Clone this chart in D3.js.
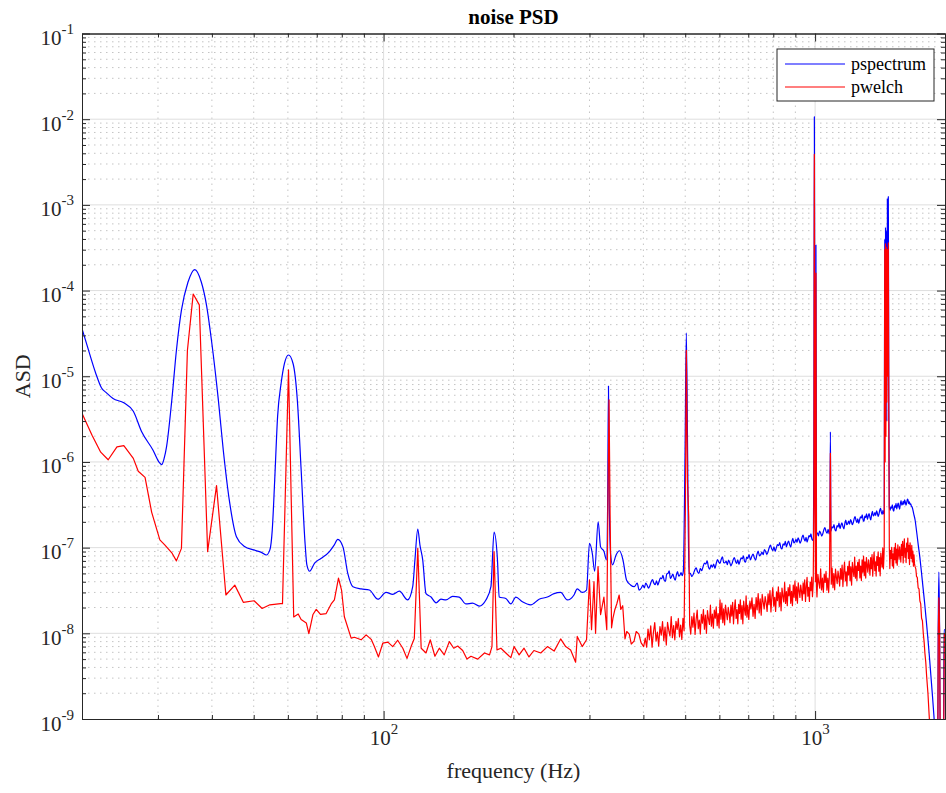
<!DOCTYPE html>
<html><head><meta charset="utf-8">
<script src="https://cdn.jsdelivr.net/npm/d3@7"></script>
<style>body{margin:0;background:#fff}svg{display:block}</style>
</head><body><svg id="chart" width="946" height="793"></svg>
<script>
// ---------------- data ----------------
const titleText = "noise PSD";
const xLabelText = "frequency (Hz)";
const yLabelText = "ASD";
const seriesNames = ["pspectrum", "pwelch"];
const seriesColors = ["#0000ff", "#ff0000"];
const xDomain = [20, 2000];
const yDomain = [1e-9, 1e-1];
const xMajorTicks = [100, 1000];
const xTickExponents = ["2", "3"];
const yMajorTicks = [1e-9,1e-8,1e-7,1e-6,1e-5,1e-4,1e-3,1e-2,1e-1];
const yTickExponents = ["-9","-8","-7","-6","-5","-4","-3","-2","-1"];
const minorMultipliers = [2,3,4,5,6,7,8,9];

// pspectrum: [frequency Hz, ASD]
const pspectrum = [
[20,3.6e-5],[20.6,2.2e-5],[21.5,1.1e-5],[22.2,7.3e-6],[22.8,6.4e-6],[23.6,5.5e-6],[25.0,4.9e-6],[26.3,3.9e-6],[27.5,2.25e-6],[29.2,1.38e-6],
[30.2,9.9e-7],[30.6,9.3e-7],[31.0,1.1e-6],[31.4,1.5e-6],[32.3,5.3e-6],[33.1,2.0e-5],[34.0,5.9e-5],[35.2,1.25e-4],[36.5,1.76e-4],[37.8,1.26e-4],
[38.9,6.6e-5],[39.9,2.65e-5],[41.4,5.3e-6],[42.5,1.38e-6],[44.0,3.3e-7],[45.6,1.34e-7],[47.6,1.03e-7],[50.0,9.4e-8],[52.1,8.8e-8],[53.5,8.2e-8],
[54.5,9.4e-8],[55.2,1.6e-7],[55.9,5.8e-7],[56.8,3.4e-6],[57.9,8.4e-6],[58.9,1.4e-5],[60.2,1.77e-5],[61.7,1.4e-5],[63.1,5.3e-6],[64.4,8.1e-7],
[65.8,1.08e-7],[66.4,6.3e-8],[67.4,5.3e-8],[69.2,6.6e-8],[71.7,7.5e-8],[74.9,9.0e-8],[76.8,1.07e-7],[78.3,1.25e-7],[80.5,1.02e-7],[82.6,5.0e-8],
[84.9,3.5e-8],[88.7,3.3e-8],[92.7,3.2e-8],[97.0,2.5e-8],[101.3,3.0e-8],[105,2.85e-8],[108.8,3.1e-8],[113.7,2.45e-8],[116.8,3.5e-8],[118.2,7.2e-8],
[120.0,1.65e-7],[121.4,1.07e-7],[123.2,7.2e-8],[125.4,2.9e-8],[128.8,2.65e-8],[132.3,2.27e-8],[135.8,2.5e-8],[139.5,2.45e-8],[144.5,2.7e-8],[149.7,2.65e-8],
[155.2,2.2e-8],[160.7,2.25e-8],[166.6,2.08e-8],[172.6,2.45e-8],[177.3,3.5e-8],[180.3,1.52e-7],[183.6,7.2e-8],[185.3,2.65e-8],[192,2.55e-8],[197.2,2.2e-8],
[202.5,2.65e-8],[209.7,2.33e-8],[219.3,2.15e-8],[229.3,2.5e-8],[239.6,2.65e-8],[248.3,2.9e-8],[257.2,3.0e-8],[266.6,2.45e-8],[276.2,2.8e-8],[281,3.3e-8],
[288.6,3.0e-8],[295.3,3.2e-8],[300,1.12e-7],[304.5,8.6e-8],[308.4,5.3e-8],[314.2,2.0e-7],[318.3,1.02e-7],[324.2,9.0e-8],[328.5,7.2e-8],[330.6,3.6e-7],
[332,7.7e-6],[333.5,3.0e-7],[336,8e-8],[339.3,6.3e-8],[345.7,8.2e-8],[352,9.2e-8],[358.7,7.2e-8],[365.5,4.2e-8],[373.5,3.67e-8],[381,3.5e-8],
[387,3.85e-8],[391,3.2e-8],
[396,3.40e-8],[399,3.65e-8],[402,3.39e-8],[405,3.85e-8],[408,3.64e-8],[411,3.37e-8],[414,3.59e-8],[417,4.00e-8],[420,4.24e-8],[423,3.85e-8],
[426,3.69e-8],[429,4.10e-8],[432,3.65e-8],[435,4.03e-8],[438,4.43e-8],[441,4.33e-8],[444,4.74e-8],[447,4.16e-8],[450,4.05e-8],[453,4.94e-8],
[456,5.00e-8],[459,5.34e-8],[462,4.37e-8],[465,4.59e-8],[468,4.90e-8],[471,4.44e-8],[474,4.16e-8],[477,4.80e-8],[480,5.26e-8],[483,4.65e-8],
[486,4.78e-8],[489,5.10e-8],[492,4.70e-8],[495,5.32e-8],[499.5,1.2e-6],[503,3.2e-5],[506.5,1.2e-6],[510,5.0e-8],
[514,5.00e-8],[518,4.60e-8],[522,4.90e-8],[526,5.46e-8],[530,5.79e-8],[534,5.23e-8],[538,4.99e-8],[542,5.72e-8],[546,5.37e-8],[550,5.99e-8],
[554,6.58e-8],[558,6.44e-8],[562,6.99e-8],[566,5.95e-8],[570,5.61e-8],[574,6.30e-8],[578,5.90e-8],[582,6.44e-8],[586,5.73e-8],[590,6.53e-8],
[594,7.24e-8],[598,6.79e-8],[602,6.53e-8],[606,7.31e-8],[610,7.78e-8],[614,6.66e-8],[618,6.65e-8],[622,6.94e-8],[626,6.31e-8],[630,7.14e-8],
[634,6.71e-8],[638,6.16e-8],[642,6.53e-8],[646,7.24e-8],[650,7.64e-8],[654,6.89e-8],[658,6.54e-8],[662,7.22e-8],[666,6.37e-8],[670,6.99e-8],
[674,7.62e-8],[678,7.39e-8],[682,8.01e-8],[686,6.99e-8],[690,6.75e-8],[694,7.77e-8],[698,7.46e-8],
[703,8.31e-8],[708,7.17e-8],[713,7.86e-8],[718,8.41e-8],[723,7.63e-8],[728,7.16e-8],[733,8.27e-8],[738,9.08e-8],[743,8.03e-8],[748,8.27e-8],
[753,8.89e-8],[758,8.28e-8],[763,9.47e-8],[768,9.02e-8],[773,8.36e-8],[778,8.96e-8],[783,1.003e-7],[788,1.067e-7],[793,9.69e-8],[798,9.25e-8],
[803,1.024e-7],[808,9.05e-8],[813,9.93e-8],[818,1.083e-7],[823,1.052e-7],[828,1.143e-7],[833,9.97e-8],[838,9.64e-8],[843,1.110e-7],[848,1.066e-7],
[853,1.184e-7],[858,1.021e-7],[863,1.118e-7],[868,1.194e-7],[873,1.083e-7],[878,1.013e-7],[883,1.170e-7],[888,1.284e-7],[893,1.133e-7],[898,1.166e-7],
[903,1.246e-7],[908,1.148e-7],[913,1.300e-7],[918,1.226e-7],[923,1.126e-7],[928,1.196e-7],[933,1.327e-7],[938,1.399e-7],[943,1.259e-7],[948,1.193e-7],
[953,1.316e-7],[958,1.158e-7],[963,1.267e-7],[968,1.377e-7],[973,1.334e-7],[978,1.445e-7],[983,1.258e-7],[988,1.212e-7],
[991,1.3e-7],[993.5,1.5e-6],[996,1.07e-2],[999,2e-6],[1001.5,1.5e-7],[1004.5,3.4e-4],[1007.5,1.5e-7],
[1012,1.484e-7],[1018,1.374e-7],[1024,1.563e-7],[1030,1.479e-7],[1036,1.364e-7],[1042,1.454e-7],[1048,1.621e-7],[1054,1.715e-7],[1060,1.549e-7],[1066,1.473e-7],
[1072,1.631e-7],[1078,1.442e-7],[1082,1.57e-7],[1085,2.25e-6],[1088,1.55e-7],[1094,1.749e-7],[1100,1.702e-7],[1106,1.853e-7],[1112,1.619e-7],[1118,1.566e-7],
[1124,1.805e-7],[1130,1.736e-7],[1136,1.928e-7],[1142,1.664e-7],[1148,1.822e-7],[1154,1.947e-7],[1160,1.765e-7],[1166,1.653e-7],[1172,1.910e-7],[1178,2.094e-7],
[1184,1.849e-7],[1190,1.904e-7],[1196,2.036e-7],[1202,1.880e-7],[1208,2.130e-7],[1214,2.010e-7],[1220,1.849e-7],[1226,1.965e-7],[1232,2.184e-7],[1238,2.303e-7],
[1244,2.076e-7],[1250,1.968e-7],[1256,2.173e-7],[1262,1.916e-7],[1268,2.101e-7],[1274,2.289e-7],[1280,2.221e-7],[1286,2.412e-7],[1292,2.102e-7],[1298,2.030e-7],
[1304,2.334e-7],[1310,2.240e-7],[1316,2.483e-7],[1322,2.138e-7],[1328,2.336e-7],[1334,2.492e-7],[1340,2.254e-7],[1346,2.107e-7],[1352,2.429e-7],[1358,2.659e-7],
[1364,2.343e-7],[1370,2.408e-7],[1376,2.571e-7],[1382,2.369e-7],[1388,2.679e-7],[1394,2.525e-7],[1400,2.318e-7],[1406,2.459e-7],[1412,2.728e-7],[1418,2.872e-7],
[1424,2.585e-7],[1430,2.447e-7],[1436,2.697e-7],[1442,2.470e-7],
[1446,2.6e-7],[1450,4.0e-4],[1453,2e-6],[1456,5.5e-4],[1459,1e-5],[1462,5.0e-4],[1466,3e-6],[1470,1.2e-3],[1474,2e-5],[1478,1.25e-3],[1482,4e-6],[1486,3e-7],
[1492,2.73e-7],[1498,2.99e-7],[1504,2.89e-7],[1510,3.15e-7],[1516,2.76e-7],[1522,2.67e-7],[1528,3.08e-7],[1534,2.95e-7],[1540,3.28e-7],[1546,2.83e-7],
[1552,3.10e-7],[1558,3.30e-7],[1564,3.00e-7],[1570,2.81e-7],[1576,3.24e-7],[1582,3.55e-7],[1588,3.14e-7],[1594,3.23e-7],[1600,3.46e-7],[1606,3.18e-7],
[1612,3.61e-7],[1618,3.41e-7],[1624,3.13e-7],[1630,3.32e-7],[1636,3.68e-7],[1642,3.59e-7],[1648,3.26e-7],[1654,3.43e-7],[1660,3.18e-7],[1666,3.24e-7],
[1672,3.04e-7],[1678,2.98e-7],[1684,2.80e-7],
[1692,2.5e-7],[1705,2.1e-7],[1720,1.5e-7],[1735,1.05e-7],[1750,7.5e-8],[1765,5e-8],[1780,3.3e-8],[1795,2.2e-8],[1810,1.4e-8],[1825,8.8e-9],
[1840,5.4e-9],[1855,3.2e-9],[1870,1.9e-9],[1885,1.1e-9],[1900,6e-10],[1924,4e-10],[1929,1.15e-8],[1936,5.2e-8],[1943,1.1e-8],[1950,5e-10],
[1984,5e-10],[1990,1.1e-8],[2000,1.1e-8]
];

// pwelch: [frequency Hz, ASD]
const pwelch = [
[20,3.7e-6],[21.1,2.05e-6],[22.1,1.3e-6],[23.0,1.06e-6],[24.1,1.5e-6],[25.0,1.55e-6],[26.3,1.1e-6],[27.0,7.8e-7],[28.0,6.6e-7],[29.0,2.6e-7],
[30.3,1.23e-7],[31.1,1.075e-7],[32.3,8.7e-8],[33.1,7.0e-8],[34.0,9.8e-8],[35.1,2.0e-5],[36.2,9.1e-5],[37.4,6.8e-5],[39.1,9.0e-8],[41.0,5.3e-7],
[43.1,2.8e-8],[45.2,3.65e-8],[47.3,2.3e-8],[50.1,2.4e-8],[52.3,1.95e-8],[54.5,2.15e-8],[57.7,2.22e-8],[58.3,2.22e-8],[60.2,1.19e-5],[61.9,1.55e-8],
[63.4,1.68e-8],[64.4,1.45e-8],[66.2,1.32e-8],[67.1,9.9e-9],[68.6,1.66e-8],[69.8,1.9e-8],[71.4,1.66e-8],[73.6,1.7e-8],[75.6,2.2e-8],[76.9,2.45e-8],
[78.6,4.4e-8],[79.9,3.2e-8],[81.1,1.56e-8],[84.1,8.8e-9],[85.6,9.0e-9],[88.7,8.4e-9],[91.1,9.6e-9],[93.6,8.5e-9],[95.2,7.0e-9],[97.3,5.3e-9],
[99.6,7.7e-9],[102.3,7.9e-9],[105.0,7.0e-9],[107.8,8.3e-9],[110.8,6.7e-9],[113.3,5.1e-9],[115.8,7.0e-9],[117.8,8.7e-9],[120,9.8e-8],[122.2,6.7e-9],
[125.4,5.9e-9],[128.3,8.4e-9],[131.5,5.4e-9],[134.6,6.7e-9],[138.2,5.6e-9],[142,8.0e-9],[145.4,6.7e-9],[148.5,7.1e-9],[152.5,6.3e-9],[156.0,5.0e-9],
[159.4,5.4e-9],[165.2,5.0e-9],[171.3,5.9e-9],[176.0,5.6e-9],[178.3,7.0e-9],[180.3,9.0e-8],[183.1,6.4e-9],[187.0,6.7e-9],[192.0,5.9e-9],[197.2,5.2e-9],
[200.6,7.0e-9],[206.1,5.6e-9],[211.6,6.7e-9],[217.2,5.3e-9],[223.0,6.3e-9],[231.3,5.9e-9],[239.7,7.0e-9],[248.4,6.2e-9],[257.2,8.6e-9],[264.2,7.0e-9],
[271.3,6.4e-9],[278.6,4.6e-9],[281,9.2e-9],[288.6,7.0e-9],[295.3,8.4e-9],[300,4.2e-8],[303.3,1.1e-8],[307.3,4.0e-8],[309.9,1.0e-8],[314,6.0e-8],
[318.3,1.65e-8],[324,2.65e-8],[329,1.1e-8],[331,3.0e-7],[333,5.3e-6],[335,2e-7],[337.5,1.16e-8],[340,1.5e-8],[343.3,1.87e-8],[347,2.2e-8],
[351.5,2.8e-8],[354.5,1.9e-8],[358.2,2.1e-8],[362.6,8.6e-9],[366,1.05e-8],[371,9.8e-9],[375,7.5e-9],[380.6,8.1e-9],[385,1.05e-8],[390.5,9.8e-9],
[395,7.8e-9],[400.6,7.0e-9],
[404,8.8e-9],[407,6.9e-9],[410,1.12e-8],[413,8.4e-9],[416,1.22e-8],[419,6.9e-9],[422,1.03e-8],[425,1.33e-8],[428,8.1e-9],[431,1.03e-8],
[434,7.1e-9],[437,1.20e-8],[440,9.5e-9],[443,1.37e-8],[446,8.2e-9],[449,1.18e-8],[452,7.3e-9],[455,1.34e-8],[458,1.08e-8],[461,9.3e-9],
[464,1.57e-8],[467,8.9e-9],[470,1.23e-8],[473,8.4e-9],[476,1.38e-8],[479,1.11e-8],[482,1.49e-8],[485,9.1e-9],[488,1.25e-8],[491,8.5e-9],
[494,1.49e-8],[497,1.07e-8],[500.5,3e-7],[503,2.0e-5],[506,6e-7],[509.5,2.3e-7],
[512,1.25e-8],[515,9.8e-9],[518,1.57e-8],[521,1.18e-8],[524,1.72e-8],[527,9.7e-9],[530,1.45e-8],[533,1.86e-8],[536,1.13e-8],[539,1.43e-8],
[542,9.8e-9],[545,1.66e-8],[548,1.31e-8],[551,1.89e-8],[554,1.12e-8],[557,1.63e-8],[560,1.00e-8],[563,1.84e-8],[566,1.48e-8],[569,1.27e-8],
[572,2.13e-8],[575,1.21e-8],[578,1.68e-8],[581,1.15e-8],[584,1.87e-8],[587,1.50e-8],[590,2.03e-8],[593,1.23e-8],[596,1.70e-8],[599,1.16e-8],
[602,2.45e-8],[605,1.46e-8],[608,2.25e-8],[611,1.33e-8],[614,1.93e-8],[617,1.25e-8],[620,2.14e-8],[623,1.74e-8],[626,1.44e-8],[629,2.01e-8],
[632,1.70e-8],[635,1.33e-8],[638,2.13e-8],[641,1.59e-8],[644,2.30e-8],[647,1.29e-8],[650,1.93e-8],[653,2.46e-8],[656,1.49e-8],[659,1.89e-8],
[662,1.29e-8],[665,2.18e-8],[668,1.71e-8],[671,2.46e-8],[674,1.46e-8],[677,2.10e-8],[680,1.29e-8],[683,2.37e-8],[686,1.90e-8],[689,1.63e-8],
[692,2.73e-8],[695,1.54e-8],[698,2.12e-8],
[702,1.45e-8],[706,2.37e-8],[710,1.92e-8],[714,2.59e-8],[718,1.58e-8],[722,2.18e-8],[726,1.49e-8],[730,2.61e-8],[734,1.88e-8],[738,2.91e-8],
[742,1.73e-8],[746,2.52e-8],[750,1.63e-8],[754,2.84e-8],[758,2.31e-8],[762,1.93e-8],[766,2.69e-8],[770,2.29e-8],[774,1.80e-8],[778,2.89e-8],
[782,2.16e-8],[786,3.15e-8],[790,1.78e-8],[794,2.66e-8],[798,3.42e-8],[802,2.07e-8],[806,2.63e-8],[810,1.80e-8],[814,3.05e-8],[818,2.41e-8],
[822,3.48e-8],[826,2.06e-8],[830,2.99e-8],[834,1.83e-8],[838,3.38e-8],[842,2.71e-8],[846,2.33e-8],[850,3.92e-8],[854,2.23e-8],[858,3.07e-8],
[862,2.10e-8],[866,3.42e-8],[870,2.74e-8],[874,3.69e-8],[878,2.24e-8],[882,3.09e-8],[886,2.10e-8],[890,3.65e-8],[894,2.63e-8],[898,4.06e-8],
[902,2.40e-8],[906,3.49e-8],[910,2.25e-8],[914,3.88e-8],[918,3.15e-8],[922,2.62e-8],[926,3.65e-8],[930,3.09e-8],[934,2.42e-8],[938,3.87e-8],
[942,2.89e-8],[946,4.20e-8],[950,2.35e-8],[954,3.51e-8],[958,4.49e-8],[962,2.71e-8],[966,3.45e-8],[970,2.35e-8],[974,3.97e-8],[978,3.14e-8],
[982,4.52e-8],[986,2.67e-8],[990,3.86e-8],
[993.5,4e-7],[996,3.9e-3],[999,5e-7],[1002,4e-8],[1004.5,1.6e-4],[1007.5,3.5e-8],
[1010,2.66e-8],[1015,4.89e-8],[1020,3.92e-8],[1025,3.37e-8],[1030,5.64e-8],[1035,3.21e-8],[1040,4.40e-8],[1045,3.01e-8],[1050,4.90e-8],[1055,3.92e-8],
[1060,5.27e-8],[1065,3.19e-8],[1070,4.40e-8],[1075,2.99e-8],[1080,5.18e-8],[1085,1.26e-6],[1090,3.74e-8],[1095,5.77e-8],[1100,3.40e-8],[1105,4.97e-8],
[1110,3.22e-8],[1115,5.60e-8],[1120,4.56e-8],[1125,3.81e-8],[1130,5.32e-8],[1135,4.52e-8],[1140,3.56e-8],[1145,5.71e-8],[1150,4.28e-8],[1155,6.25e-8],
[1160,3.51e-8],[1165,5.27e-8],[1170,6.76e-8],[1175,4.10e-8],[1180,5.22e-8],[1185,3.58e-8],[1190,6.06e-8],[1195,4.81e-8],[1200,6.94e-8],[1205,4.11e-8],
[1210,5.95e-8],[1215,3.65e-8],[1220,6.71e-8],[1225,5.38e-8],[1230,4.62e-8],[1235,7.76e-8],[1240,4.41e-8],[1245,6.07e-8],[1250,4.14e-8],[1255,6.75e-8],
[1260,5.41e-8],[1265,7.28e-8],[1270,4.42e-8],[1275,6.08e-8],[1280,4.13e-8],[1285,7.18e-8],[1290,5.16e-8],[1295,7.96e-8],[1300,4.70e-8],[1305,6.83e-8],
[1310,4.41e-8],[1315,7.64e-8],[1320,6.20e-8],[1325,5.16e-8],[1330,7.19e-8],[1335,6.08e-8],[1340,4.77e-8],[1345,7.63e-8],[1350,5.69e-8],[1355,8.29e-8],
[1360,4.64e-8],[1365,6.94e-8],[1370,8.89e-8],[1375,5.37e-8],[1380,6.82e-8],[1385,4.66e-8],[1390,7.88e-8],[1395,6.22e-8],[1400,8.95e-8],[1405,5.30e-8],
[1410,7.66e-8],[1415,4.69e-8],[1420,8.63e-8],[1425,6.92e-8],[1430,5.93e-8],[1435,9.95e-8],[1440,5.66e-8],[1444,7.84e-8],
[1446,1e-7],[1450,3.0e-4],[1453,1e-6],[1456,3.5e-4],[1459,2e-6],[1462,3.2e-4],[1466,5e-6],[1470,3.0e-4],[1474,1e-5],[1478,3.6e-4],[1482,2e-6],[1486,1e-7],
[1490,5.70e-8],[1495,9.31e-8],[1500,7.48e-8],[1505,1.01e-7],[1510,6.14e-8],[1515,8.46e-8],[1520,5.77e-8],[1525,1.00e-7],[1530,7.23e-8],[1535,1.12e-7],
[1540,6.62e-8],[1545,9.63e-8],[1550,6.23e-8],[1555,1.08e-7],[1560,8.77e-8],[1565,7.31e-8],[1570,1.02e-7],[1575,8.63e-8],[1580,6.79e-8],[1585,1.09e-7],
[1590,8.12e-8],[1595,1.18e-7],[1600,6.64e-8],[1605,9.93e-8],[1610,1.27e-7],[1615,7.70e-8],[1620,9.78e-8],[1625,6.70e-8],[1630,1.13e-7],[1635,8.96e-8],
[1640,1.29e-7],[1645,7.48e-8],[1650,1.06e-7],[1655,6.34e-8],[1660,1.14e-7],[1665,8.93e-8],[1670,7.48e-8],[1675,1.06e-7],[1680,6.81e-8],[1685,9.13e-8],
[1690,6.08e-8],[1695,8.25e-8],[1700,6.46e-8],[1705,6.0e-8],[1712,5.6e-8],[1718,4.6e-8],[1725,4.5e-8],[1733,3.4e-8],[1741,3.3e-8],[1749,2.4e-8],
[1757,2.2e-8],[1765,1.5e-8],[1773,1.4e-8],[1781,1.0e-8],[1789,8e-9],[1797,5.8e-9],[1805,4.6e-9],[1813,3.2e-9],[1826,2e-9],[1838,1.1e-9],
[1850,6e-10],[1924,4e-10],[1930,1.1e-8],[1936,2.6e-8],[1943,1.1e-8],[1950,4e-10],[1986,5e-10],[1993,1.0e-8],[2000,9e-9]
];

// ---------------- drawing ----------------
const svg = d3.select("#chart");
const L = 82, R = 945, T = 33.5, B = 719;
const x = d3.scaleLog().domain(xDomain).range([L, R]);
const y = d3.scaleLog().domain(yDomain).range([B, T]);
const axisColor = "#262626";
const serif = "'Liberation Serif','Times New Roman',Times,serif";

svg.append("rect").attr("x",0).attr("y",0).attr("width",946).attr("height",793).attr("fill","#fff");

// minor tick values
const xMinor = [];
[10,100,1000].forEach(d => minorMultipliers.forEach(m => { const v = d*m; if (v >= xDomain[0] && v <= xDomain[1]) xMinor.push(v); }));
const yMinor = [];
yMajorTicks.slice(0,-1).forEach(d => minorMultipliers.forEach(m => yMinor.push(d*m)));

// grid
const grid = svg.append("g");
grid.selectAll(".gxm").data(xMinor.filter(v => v > xDomain[0] && v < xDomain[1])).join("line")
  .attr("x1", d => x(d)).attr("x2", d => x(d)).attr("y1", T).attr("y2", B)
  .attr("stroke", "#c4c4c4").attr("stroke-width", 1).attr("stroke-dasharray", "1.5,4.5");
grid.selectAll(".gym").data(yMinor).join("line")
  .attr("y1", d => y(d)).attr("y2", d => y(d)).attr("x1", L).attr("x2", R)
  .attr("stroke", "#c4c4c4").attr("stroke-width", 1).attr("stroke-dasharray", "1.5,4.5");
grid.selectAll(".gxM").data(xMajorTicks).join("line")
  .attr("x1", d => x(d)).attr("x2", d => x(d)).attr("y1", T).attr("y2", B)
  .attr("stroke", "#dedede").attr("stroke-width", 1);
grid.selectAll(".gyM").data(yMajorTicks.slice(1,-1)).join("line")
  .attr("y1", d => y(d)).attr("y2", d => y(d)).attr("x1", L).attr("x2", R)
  .attr("stroke", "#dedede").attr("stroke-width", 1);

// clip
svg.append("clipPath").attr("id","plotclip").append("rect")
  .attr("x", L).attr("y", T).attr("width", R-L).attr("height", B-T);

const lineBlue = d3.line().x(d => x(d[0])).y(d => y(d[1])).curve(d3.curveMonotoneX);
const lineRed = d3.line().x(d => x(d[0])).y(d => y(d[1]));
const plot = svg.append("g").attr("clip-path","url(#plotclip)");
plot.append("path").datum(pspectrum).attr("d", lineBlue)
  .attr("fill","none").attr("stroke", seriesColors[0]).attr("stroke-width", 1.2).attr("stroke-linejoin","round");
plot.append("path").datum(pwelch).attr("d", lineRed)
  .attr("fill","none").attr("stroke", seriesColors[1]).attr("stroke-width", 1.2).attr("stroke-linejoin","round");

// axes
function styleAxis(g) {
  g.selectAll("path.domain").attr("stroke", axisColor).attr("stroke-width", 1);
  g.selectAll(".tick line").attr("stroke", axisColor).attr("stroke-width", 1);
}
function supLabels(g, exps, vals) {
  g.selectAll(".tick text").each(function(d) {
    const i = vals.indexOf(d);
    const t = d3.select(this);
    t.text(null).attr("fill", axisColor).attr("font-family", serif).attr("font-size", 21);
    t.append("tspan").text("10");
    t.append("tspan").attr("dy", -11).attr("font-size", 15).text(exps[i]);
  });
}
// bottom major
const gB = svg.append("g").attr("transform", `translate(0,${B})`)
  .call(d3.axisBottom(x).tickValues(xMajorTicks).tickSize(-8).tickSizeOuter(0).tickFormat(() => "x"));
gB.selectAll(".tick text").attr("y", 26).attr("dy", 0);
supLabels(gB, xTickExponents, xMajorTicks);
styleAxis(gB);
svg.append("g").attr("transform", `translate(0,${B})`)
  .call(d3.axisBottom(x).tickValues(xMinor).tickSize(-4).tickSizeOuter(0).tickFormat(""))
  .call(styleAxis);
// top
svg.append("g").attr("transform", `translate(0,${T})`)
  .call(d3.axisTop(x).tickValues(xMajorTicks).tickSize(-8).tickSizeOuter(0).tickFormat("")).call(styleAxis);
svg.append("g").attr("transform", `translate(0,${T})`)
  .call(d3.axisTop(x).tickValues(xMinor).tickSize(-4).tickSizeOuter(0).tickFormat("")).call(styleAxis);
// left
const gL = svg.append("g").attr("transform", `translate(${L},0)`)
  .call(d3.axisLeft(y).tickValues(yMajorTicks).tickSize(-8).tickSizeOuter(0).tickFormat(() => "x"));
gL.selectAll(".tick text").attr("x", -8).attr("dy", 0).attr("y", 11);
supLabels(gL, yTickExponents, yMajorTicks);
styleAxis(gL);
svg.append("g").attr("transform", `translate(${L},0)`)
  .call(d3.axisLeft(y).tickValues(yMinor).tickSize(-4).tickSizeOuter(0).tickFormat("")).call(styleAxis);
// right
svg.append("g").attr("transform", `translate(${R},0)`)
  .call(d3.axisRight(y).tickValues(yMajorTicks).tickSize(-8).tickSizeOuter(0).tickFormat("")).call(styleAxis);
svg.append("g").attr("transform", `translate(${R},0)`)
  .call(d3.axisRight(y).tickValues(yMinor).tickSize(-4).tickSizeOuter(0).tickFormat("")).call(styleAxis);

// title and labels
svg.append("text").attr("x", (L+R)/2).attr("y", 24).attr("text-anchor","middle")
  .attr("font-family", serif).attr("font-size", 21).attr("font-weight","bold").attr("fill","#000").text(titleText);
svg.append("text").attr("x", (L+R)/2).attr("y", 778).attr("text-anchor","middle")
  .attr("font-family", serif).attr("font-size", 22).attr("fill", axisColor).text(xLabelText);
svg.append("text").attr("transform", `translate(30,${(T+B)/2}) rotate(-90)`).attr("text-anchor","middle")
  .attr("font-family", serif).attr("font-size", 22).attr("fill", axisColor).text(yLabelText);

// legend
const lg = svg.append("g");
lg.append("rect").attr("x", 777).attr("y", 49).attr("width", 157).attr("height", 52)
  .attr("fill","#fff").attr("stroke", axisColor).attr("stroke-width", 1);
seriesNames.forEach((name, i) => {
  const ly = 64 + i*23;
  lg.append("line").attr("x1", 785).attr("x2", 845).attr("y1", ly).attr("y2", ly)
    .attr("stroke", seriesColors[i]).attr("stroke-width", 1.2);
  lg.append("text").attr("x", 851).attr("y", ly + 6).attr("font-family", serif).attr("font-size", 18)
    .attr("fill", "#000").text(name);
});
</script>
</body></html>
